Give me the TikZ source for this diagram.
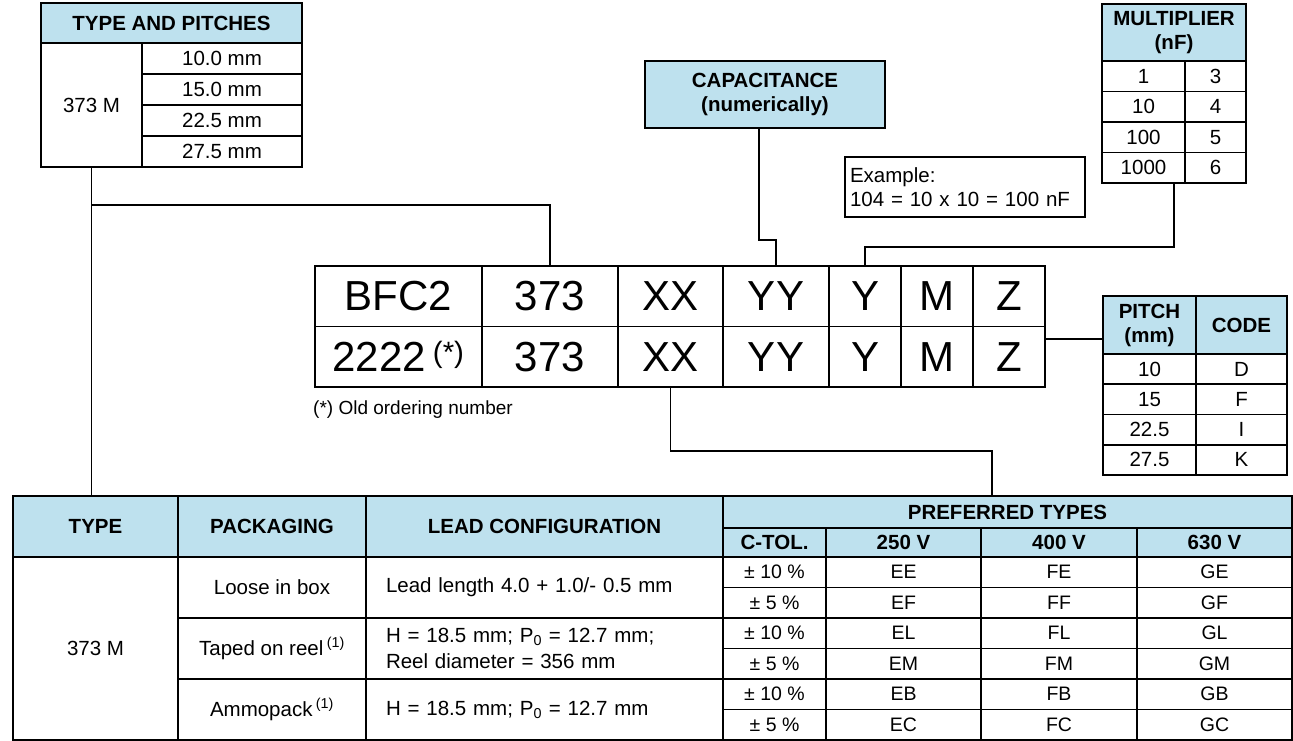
\documentclass[tikz,border=0pt]{standalone}
\usepackage{fontspec}
\setmainfont{Liberation Sans}
\definecolor{lightb}{RGB}{190,225,238}

\tikzset{
  cell/.style={draw, line width=1.8pt, inner sep=0pt, align=center, font=\fontsize{20.5}{24}\selectfont},
  head/.style={cell, fill=lightb, font=\fontsize{20.5}{24}\selectfont\bfseries},
  code/.style={cell, font=\fontsize{42}{46}\selectfont},
  lead/.style={cell, minimum width=357pt, minimum height=61pt, text width=317pt, align=left},
  pv/.style={cell, minimum height=30.5pt, font=\fontsize{19.5}{22}\selectfont},
  wire/.style={line width=1.8pt}
}

\begin{document}
\begin{tikzpicture}[x=1pt,y=-1pt]
\useasboundingbox (0,0) rectangle (1293,740);
% type and pitches
\node[head, minimum width=261pt, minimum height=40pt] (tpHead) at (171.5,23) {TYPE AND PITCHES};
\node[cell, minimum width=101pt, minimum height=124pt] (tpType) at (91.5,105) {373 M};
\node[cell, minimum width=160pt, minimum height=31pt] (tp10) at (222,58.5) {10.0 mm};
\node[cell, minimum width=160pt, minimum height=31pt] (tp15) at (222,89.5) {15.0 mm};
\node[cell, minimum width=160pt, minimum height=31pt] (tp22) at (222,120.5) {22.5 mm};
\node[cell, minimum width=160pt, minimum height=31pt] (tp27) at (222,151.5) {27.5 mm};
% capacitance and example
\node[head, minimum width=240pt, minimum height=67pt] (cap) at (765,94.5) {CAPACITANCE\\(numerically)};
\node[cell, minimum width=240pt, minimum height=60pt, text width=230pt, align=left] (ex) at (965,187) {Example:\\104 = 10 x 10 = 100 nF};
% multiplier
\node[head, minimum width=144pt, minimum height=57pt] (mHead) at (1174,32.5) {MULTIPLIER\\(nF)};
\node[cell, minimum width=83pt, minimum height=30.5pt] (m1) at (1143.5,76.25) {1};
\node[cell, minimum width=61pt, minimum height=30.5pt] (m3) at (1215.5,76.25) {3};
\node[cell, minimum width=83pt, minimum height=30.5pt] (m10) at (1143.5,106.75) {10};
\node[cell, minimum width=61pt, minimum height=30.5pt] (m4) at (1215.5,106.75) {4};
\node[cell, minimum width=83pt, minimum height=30.5pt] (m100) at (1143.5,137.25) {100};
\node[cell, minimum width=61pt, minimum height=30.5pt] (m5) at (1215.5,137.25) {5};
\node[cell, minimum width=83pt, minimum height=30.5pt] (m1000) at (1143.5,167.75) {1000};
\node[cell, minimum width=61pt, minimum height=30.5pt] (m6) at (1215.5,167.75) {6};
% ordering code
\node[code, minimum width=167pt, minimum height=60.5pt] (cBFC) at (398.5,296.25) {BFC2};
\node[code, minimum width=136pt, minimum height=60.5pt] (c373a) at (550,296.25) {373};
\node[code, minimum width=105pt, minimum height=60.5pt] (cXXa) at (670.5,296.25) {XX};
\node[code, minimum width=106pt, minimum height=60.5pt] (cYYa) at (776,296.25) {YY};
\node[code, minimum width=72pt, minimum height=60.5pt] (cYa) at (865,296.25) {Y};
\node[code, minimum width=72pt, minimum height=60.5pt] (cMa) at (937,296.25) {M};
\node[code, minimum width=72pt, minimum height=60.5pt] (cZa) at (1009,296.25) {Z};
\node[code, minimum width=167pt, minimum height=60.5pt] (c2222) at (398.5,356.75) {2222\,\textsuperscript{(*)}};
\node[code, minimum width=136pt, minimum height=60.5pt] (c373b) at (550,356.75) {373};
\node[code, minimum width=105pt, minimum height=60.5pt] (cXXb) at (670.5,356.75) {XX};
\node[code, minimum width=106pt, minimum height=60.5pt] (cYYb) at (776,356.75) {YY};
\node[code, minimum width=72pt, minimum height=60.5pt] (cYb) at (865,356.75) {Y};
\node[code, minimum width=72pt, minimum height=60.5pt] (cMb) at (937,356.75) {M};
\node[code, minimum width=72pt, minimum height=60.5pt] (cZb) at (1009,356.75) {Z};
\node[anchor=west, inner sep=0pt, font=\fontsize{19}{22}\selectfont] (note) at (313,410) {(*) Old ordering number};
% pitch
\node[head, minimum width=93pt, minimum height=58pt] (pPitch) at (1149.5,325) {PITCH\\(mm)};
\node[head, minimum width=91pt, minimum height=58pt] (pCode) at (1241.5,325) {CODE};
\node[cell, minimum width=93pt, minimum height=30.25pt] (p10) at (1149.5,369.125) {10};
\node[cell, minimum width=91pt, minimum height=30.25pt] (pD) at (1241.5,369.125) {D};
\node[cell, minimum width=93pt, minimum height=30.25pt] (p15) at (1149.5,399.375) {15};
\node[cell, minimum width=91pt, minimum height=30.25pt] (pF) at (1241.5,399.375) {F};
\node[cell, minimum width=93pt, minimum height=30.25pt] (p22) at (1149.5,429.625) {22.5};
\node[cell, minimum width=91pt, minimum height=30.25pt] (pI) at (1241.5,429.625) {I};
\node[cell, minimum width=93pt, minimum height=30.25pt] (p27) at (1149.5,459.875) {27.5};
\node[cell, minimum width=91pt, minimum height=30.25pt] (pK) at (1241.5,459.875) {K};
% bottom table
\node[head, minimum width=165pt, minimum height=61pt] (bType) at (95.5,526.5) {TYPE};
\node[head, minimum width=188pt, minimum height=61pt] (bPack) at (272,526.5) {PACKAGING};
\node[head, minimum width=357pt, minimum height=61pt] (bLead) at (544.5,526.5) {LEAD CONFIGURATION};
\node[head, minimum width=569pt, minimum height=32pt] (bPref) at (1007.5,512) {PREFERRED TYPES};
\node[head, minimum width=103pt, minimum height=29pt] (bTol) at (774.5,542.5) {C-TOL.};
\node[head, minimum width=155pt, minimum height=29pt] (b250) at (903.5,542.5) {250 V};
\node[head, minimum width=156pt, minimum height=29pt] (b400) at (1059,542.5) {400 V};
\node[head, minimum width=155pt, minimum height=29pt] (b630) at (1214.5,542.5) {630 V};
\node[cell, minimum width=165pt, minimum height=183pt] (bM) at (95.5,648.5) {373 M};
\node[cell, minimum width=188pt, minimum height=61pt] (bLoose) at (272,587.5) {Loose in box};
\node[cell, minimum width=188pt, minimum height=61pt] (bReel) at (272,648.5) {Taped on reel\,\textsuperscript{(1)}};
\node[cell, minimum width=188pt, minimum height=61pt] (bAmmo) at (272,709.5) {Ammopack\,\textsuperscript{(1)}};
\node[lead] (bL1) at (544.5,587.5) {Lead length 4.0 + 1.0/- 0.5 mm};
\node[lead, font=\fontsize{20.5}{26}\selectfont] (bL2) at (544.5,648.5) {H = 18.5 mm; P\textsubscript{0} = 12.7 mm;\\Reel diameter = 356 mm};
\node[lead] (bL3) at (544.5,709.5) {H = 18.5 mm; P\textsubscript{0} = 12.7 mm};
\node[pv, minimum width=103pt] (t1) at (774.5,572.25) {± 10 \%};
\node[pv, minimum width=155pt] (EE) at (903.5,572.25) {EE};
\node[pv, minimum width=156pt] (FE) at (1059,572.25) {FE};
\node[pv, minimum width=155pt] (GE) at (1214.5,572.25) {GE};
\node[pv, minimum width=103pt] (t2) at (774.5,602.75) {± 5 \%};
\node[pv, minimum width=155pt] (EF) at (903.5,602.75) {EF};
\node[pv, minimum width=156pt] (FF) at (1059,602.75) {FF};
\node[pv, minimum width=155pt] (GF) at (1214.5,602.75) {GF};
\node[pv, minimum width=103pt] (t3) at (774.5,633.25) {± 10 \%};
\node[pv, minimum width=155pt] (EL) at (903.5,633.25) {EL};
\node[pv, minimum width=156pt] (FL) at (1059,633.25) {FL};
\node[pv, minimum width=155pt] (GL) at (1214.5,633.25) {GL};
\node[pv, minimum width=103pt] (t4) at (774.5,663.75) {± 5 \%};
\node[pv, minimum width=155pt] (EM) at (903.5,663.75) {EM};
\node[pv, minimum width=156pt] (FM) at (1059,663.75) {FM};
\node[pv, minimum width=155pt] (GM) at (1214.5,663.75) {GM};
\node[pv, minimum width=103pt] (t5) at (774.5,694.25) {± 10 \%};
\node[pv, minimum width=155pt] (EB) at (903.5,694.25) {EB};
\node[pv, minimum width=156pt] (FB) at (1059,694.25) {FB};
\node[pv, minimum width=155pt] (GB) at (1214.5,694.25) {GB};
\node[pv, minimum width=103pt] (t6) at (774.5,724.75) {± 5 \%};
\node[pv, minimum width=155pt] (EC) at (903.5,724.75) {EC};
\node[pv, minimum width=156pt] (FC) at (1059,724.75) {FC};
\node[pv, minimum width=155pt] (GC) at (1214.5,724.75) {GC};
% connectors
\coordinate (typeJ) at (91.5,205);
\coordinate (capJ) at (759,240);
\coordinate (mulJ) at (1174,247);
\coordinate (pitchJ) at (1045,339);
\coordinate (prefJ) at (992,451);
\draw[wire] (tpType.south) -- (tpType.south |- bType.north);
\draw[wire] (typeJ) -| (c373a.north);
\draw[wire] ([xshift=-6pt]cap.south) -- (capJ) -| (cYYa.north);
\draw[wire] (mulJ |- m1000.south) -- (mulJ) -| (cYa.north);
\draw[wire] (pitchJ) -- (pitchJ -| pPitch.west);
\draw[wire] (cXXb.south) |- (prefJ) -- (prefJ |- bPref.north);
\end{tikzpicture}
\end{document}
